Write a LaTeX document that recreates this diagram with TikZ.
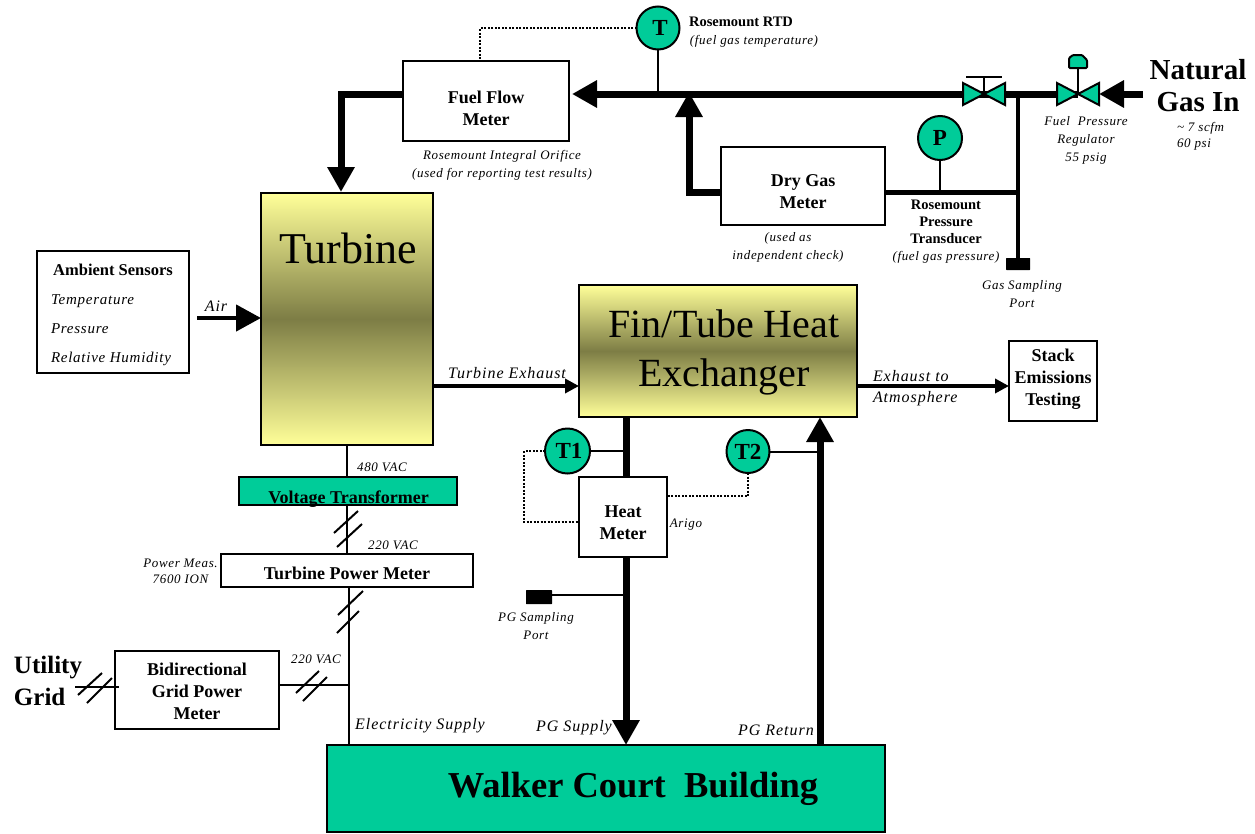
\documentclass[tikz,border=0pt]{standalone}
\usepackage{fontspec}
\setmainfont{Liberation Serif}
\usetikzlibrary{arrows.meta,calc}
\definecolor{grn}{HTML}{00CC99}
\definecolor{yel}{HTML}{FFFF99}
\definecolor{olv}{HTML}{7D7D45}
\newcommand{\fs}[2]{\fontsize{#1}{#2}\selectfont}
\newcommand{\sm}[1]{\itshape\fs{13}{#1}\addfontfeature{LetterSpace=5}}
\newcommand{\bg}[1]{\itshape\fs{16}{#1}\addfontfeature{LetterSpace=6}}
\tikzset{
  box/.style={draw=black,line width=2pt,fill=white,inner sep=0pt,outer sep=0pt},
  boxtext/.style={inner sep=0pt,outer sep=0pt,align=center,font=\bfseries\fs{18}{22}},
  grnbox/.style={box,fill=grn},
  shadebox/.style={draw=black,line width=2pt,inner sep=0pt,outer sep=0pt,top color=yel,bottom color=yel,middle color=olv},
  gauge/.style={circle,draw=black,line width=2pt,fill=grn,inner sep=0pt,outer sep=0pt,font=\bfseries\fs{23}{23}},
  lab/.style={inner sep=0pt,outer sep=0pt,align=center,font=\sm{19}},
  lab18/.style={lab,font=\sm{18}},
  labb/.style={lab,font=\bfseries\fs{14.5}{17}},
  biglab/.style={lab,font=\bg{21}},
  head/.style={lab,font=\bfseries\fs{29}{32}},
  thick pipe/.style={line width=7pt},
  mid pipe/.style={line width=4.5pt},
  wire/.style={line width=2pt},
  tick mark/.style={line width=2pt},
  dots/.style={line width=2pt,dash pattern=on 2pt off 1.5pt},
  bigtip/.style={-{Triangle[length=25pt,width=26pt]}},
  smalltip/.style={-{Triangle[length=14pt,width=14pt]}},
  valvepart/.style={draw=black,line width=2pt,fill=grn,line join=miter},
  port/.style={fill=black,inner sep=0pt,outer sep=0pt,rounded corners=0.5pt},
}
\begin{document}
\begin{tikzpicture}[x=1pt,y=-1pt]
\useasboundingbox (0,0) rectangle (1255,833);
% boxes
\node[box,minimum width=166,minimum height=80] (ffm) at (486,101) {};
\node[box,minimum width=164,minimum height=78] (dgm) at (803,186) {};
\node[shadebox,minimum width=172,minimum height=252] (turb) at (347,319) {};
\node[shadebox,minimum width=278,minimum height=132] (hx) at (718,351) {};
\node[box,minimum width=152,minimum height=122] (amb) at (113,312) {};
\node[box,minimum width=88,minimum height=80] (stack) at (1053,381) {};
\node[box,minimum width=88,minimum height=80] (hm) at (623,517) {};
\node[grnbox,minimum width=218,minimum height=28] (vt) at (348,491) {};
\node[box,minimum width=252,minimum height=33] (tpm) at (347,570) {};
\node[box,minimum width=164,minimum height=78] (bgm) at (197,690) {};
\node[grnbox,minimum width=558,minimum height=87] (wc) at (606,788.5) {};
% gauges
\node[gauge,minimum size=43] (T) at (658,28) {\hspace{4pt}\raisebox{-1pt}{T}};
\node[gauge,minimum size=44] (P) at (940,138) {P};
\node[gauge,minimum size=45] (T1) at (567.5,451) {\hspace{3pt}T1};
\node[gauge,minimum size=43] (T2) at (748,451.5) {T2};
% ports
\node[port,minimum width=24,minimum height=12] (gsp) at (1018,264) {};
\node[port,minimum width=26,minimum height=14] (pgp) at (539,597) {};
% junctions
\coordinate (gv) at (984,94);
\coordinate (reg) at (1078,94);
\coordinate (regin) at (1099,94);
\coordinate (natin) at (1143,94);
\coordinate (jt) at (658,94);
\coordinate (jd) at (689,94);
\coordinate (jg) at (1018,94);
\coordinate (jp) at (1018,192.5);
\coordinate (ffin) at (572,94);
\coordinate (ffout) at (403,94);
\coordinate (turbin) at (341,192);
\coordinate (airst) at (197,318);
\coordinate (airend) at (261,318);
\coordinate (te1) at (433,386);
\coordinate (te2) at (579,386);
\coordinate (ea1) at (857,386);
\coordinate (ea2) at (1009,386);
\coordinate (pgs) at (626,417);
\coordinate (pgr) at (820,417);
% fuel lines
\draw[thick pipe,bigtip] (gv) -- (ffin);
\draw[thick pipe] (gv) -- (reg);
\draw[thick pipe,bigtip] (natin) -- (regin);
\draw[thick pipe,bigtip] (ffout) -- (341,94) -- (turbin);
\draw[thick pipe,bigtip] (dgm.west |- jp) -- (jd |- jp) -- ([yshift=2]jd);
\draw[line width=5.5pt] (dgm.east |- jp) -- (jp);
\draw[mid pipe] (jg) -- (gsp.north);
\draw[wire] (T.south) -- (jt);
\draw[wire] (P.south) -- (P |- jp);
\draw[dots] (T.west) -- (480,28) -- (480,61);
% air, exhaust
\draw[mid pipe,bigtip] (airst) -- (airend);
\draw[mid pipe,smalltip] (te1) -- (te2);
\draw[mid pipe,smalltip] (ea1) -- (ea2);
% process glycol
\draw[thick pipe] (pgs) -- (626,477);
\draw[thick pipe,bigtip] (626,557) -- (626,745);
\draw[thick pipe,bigtip] (820,745) -- (pgr);
\draw[wire] (T1.east) -- (T1.east -| pgs);
\draw[wire] (T2.east) -- (T2.east -| pgr);
\draw[wire] ([yshift=2]pgp.east) -- ([yshift=2]pgp.east -| pgs);
\draw[dots] (T1.west) -- (524,451) -- (524,522) -- (579,522);
\draw[dots] (T2.south) -- (748,496) -- (667,496);
% electric
\draw[wire] (347,445) -- (347,477);
\draw[wire] (347,505) -- (347,553);
\coordinate (je) at (349,685);
\draw[wire] (349,586) -- (349,745);
\draw[wire] (bgm.east |- je) -- (je);
\draw[wire] (75,687) -- (119,687);
\draw[tick mark] (334,533) -- (358,511);
\draw[tick mark] (337,547) -- (362,524);
\draw[tick mark] (338,615) -- (363,591);
\draw[tick mark] (337,633) -- (359,611);
\draw[tick mark] (296,693) -- (319,671);
\draw[tick mark] (303,701) -- (327,677);
\draw[tick mark] (78,695) -- (102,673);
\draw[tick mark] (87,703) -- (112,678);
% valves
\draw[valvepart] ($(gv)+(-21,-11)$) -- (gv) -- ($(gv)+(-21,11)$) -- cycle;
\draw[valvepart] ($(gv)+(21,-11)$) -- (gv) -- ($(gv)+(21,11)$) -- cycle;
\draw[wire] (gv) -- ($(gv)+(0,-18)$);
\draw[wire] ($(gv)+(-18,-17)$) -- ($(gv)+(18,-17)$);
\draw[valvepart] ($(reg)+(-21,-11)$) -- (reg) -- ($(reg)+(-21,11)$) -- cycle;
\draw[valvepart] ($(reg)+(21,-11)$) -- (reg) -- ($(reg)+(21,11)$) -- cycle;
\draw[wire] (reg) -- ($(reg)+(0,-26)$);
\draw[valvepart,rounded corners=1pt] ($(reg)+(-9,-26)$) -- ($(reg)+(-9,-36)$) -- ($(reg)+(-5,-39)$) -- ($(reg)+(4,-39)$) -- ($(reg)+(9,-34)$) -- ($(reg)+(9,-26)$) -- cycle;
% box texts
\node[boxtext] (tffm) at (486,108) {Fuel Flow\\Meter};
\node[boxtext] (tdgm) at (803,192) {Dry Gas\\Meter};
\node[boxtext] (tstack) at (1053,379) {Stack\\Emissions\\Testing};
\node[boxtext] (thm) at (623,522.5) {Heat\\Meter};
\node[boxtext] (ttpm) at (347,573) {Turbine Power Meter};
\node[boxtext] (tbgm) at (197,691) {Bidirectional\\Grid Power\\Meter};
\node[boxtext] (lvt) at (348.5,499) {Voltage Transformer};
% labels
\node[lab,font=\fs{44}{46}] (lturb) at (348,248) {Turbine};
\node[lab,font=\fs{40}{49}] (lhx) at (724,352) {Fin/Tube Heat\\Exchanger};
\node[lab,font=\bfseries\fs{36.5}{40}] (lwc) at (633,789) {Walker Court\ \ Building};
\node[head] (lng) at (1198,86) {Natural\\Gas In};
\node[head,align=left,font=\bfseries\fs{25}{32}] (lug) at (48,681) {Utility\\Grid};
\node[lab,align=left,anchor=west,font=\sm{16}] (lscfm) at (1177,136) {\textasciitilde\ 7 scfm\\60 psi};
\node[lab18] (lreg) at (1086,140) {Fuel\ \ Pressure\\Regulator\\55 psig};
\node[labb] (lrtd) at (741,22) {Rosemount RTD};
\node[lab] (lrtd2) at (754,41) {(fuel gas temperature)};
\node[lab18] (lori) at (502,165) {Rosemount Integral Orifice\\(used for reporting test results)};
\node[lab18] (lchk) at (788,247) {(used as\\independent check)};
\node[labb] (lrpt) at (946,222) {Rosemount\\Pressure\\Transducer};
\node[lab] (lrpt2) at (946,257) {(fuel gas pressure)};
\node[lab18] (lgsp) at (1022,294) {Gas Sampling\\Port};
\node[lab,font=\bfseries\fs{16.5}{20}] (lamb0) at (113,270) {Ambient Sensors};
\node[lab,align=left,font=\itshape\fs{15}{29}\addfontfeature{LetterSpace=5},anchor=north west] (lamb) at (51,295) {Temperature\\Pressure\\Relative Humidity};
\node[biglab] (lair) at (216,306) {Air};
\node[biglab] (lte) at (507,373) {Turbine Exhaust};
\node[biglab,align=left,anchor=north west] (lea) at (873,370) {Exhaust to\\Atmosphere};
\node[lab] (l480) at (382,467) {480 VAC};
\node[lab] (l220a) at (393,545) {220 VAC};
\node[lab,font=\sm{16}] (lpm) at (180.5,571) {Power Meas.\\7600 ION};
\node[lab] (l220b) at (316,659) {220 VAC};
\node[biglab] (les) at (420,726) {Electricity Supply};
\node[biglab] (lps) at (574,728) {PG Supply};
\node[biglab] (lpr) at (776,730) {PG Return};
\node[lab] (larg) at (686,525) {Arigo};
\node[lab18] (lpgp) at (536,626) {PG Sampling\\Port};
\end{tikzpicture}
\end{document}
